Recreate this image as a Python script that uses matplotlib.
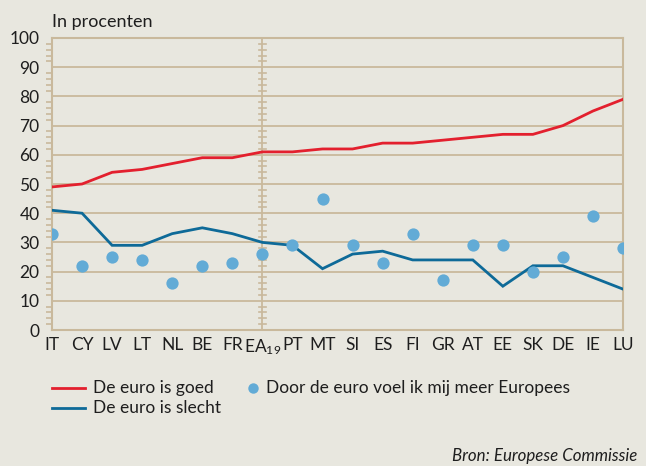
import matplotlib
matplotlib.use("Agg")
import matplotlib.pyplot as plt
from matplotlib.lines import Line2D
from matplotlib.ticker import MultipleLocator

plt.rcParams['font.family'] = ['Lato', 'DejaVu Sans']
plt.rcParams['mathtext.fontset'] = 'custom'
plt.rcParams['mathtext.rm'] = 'Lato'
plt.rcParams['mathtext.it'] = 'Lato:italic'

categories = ["IT", "CY", "LV", "LT", "NL", "BE", "FR", "EA$_{19}$", "PT", "MT",
              "SI", "ES", "FI", "GR", "AT", "EE", "SK", "DE", "IE", "LU"]
goed = [49, 50, 54, 55, 57, 59, 59, 61, 61, 62, 62, 64, 64, 65, 66, 67, 67, 70, 75, 79]
slecht = [41, 40, 29, 29, 33, 35, 33, 30, 29, 21, 26, 27, 24, 24, 24, 15, 22, 22, 18, 14]
europees = [33, 22, 25, 24, 16, 22, 23, 26, 29, 45, 29, 23, 33, 17, 29, 29, 20, 25, 39, 28]
yticks = [0, 10, 20, 30, 40, 50, 60, 70, 80, 90, 100]

BG = "#e8e7df"
GRID = "#c9b99c"
RED = "#e3202e"
BLUE = "#0e6a98"
DOT = "#62abd6"
TXT = "#1e1e1e"

fig = plt.figure(figsize=(6.46, 4.66), dpi=100, facecolor=BG)
ax = fig.add_axes([0.0805, 0.2918, 0.884, 0.6267], facecolor=BG)

x = list(range(len(categories)))
ax.set_xlim(0, len(categories) - 1)
ax.set_ylim(0, 100)

for y in yticks:
    ax.axhline(y, color=GRID, lw=1.3, zorder=1)
ei = categories.index("EA$_{19}$")
ax.axvline(ei, color=GRID, lw=1.3, zorder=1)
# minor ticks on EA19 line
for v in range(2, 100, 2):
    if v % 10:
        ax.plot([ei - 0.12, ei + 0.12], [v, v], color=GRID, lw=1.2, zorder=1, clip_on=False)

ax.plot(x, goed, color=RED, lw=2.0, zorder=3, solid_joinstyle='miter')
ax.plot(x, slecht, color=BLUE, lw=2.0, zorder=3, solid_joinstyle='miter')
ax.scatter(x, europees, s=78, color=DOT, zorder=4, linewidths=0)

for side in ["left", "right", "top", "bottom"]:
    ax.spines[side].set_color(GRID)
    ax.spines[side].set_linewidth(1.5)

ax.set_yticks(yticks)
ax.yaxis.set_minor_locator(MultipleLocator(2))
ax.tick_params(axis='y', which='major', length=0, labelsize=12.5, labelcolor=TXT, pad=9)
ax.tick_params(axis='y', which='minor', length=4, color=GRID, width=1.2, direction='out')
ax.set_xticks(x)
ax.set_xticklabels(categories)
ax.tick_params(axis='x', length=0, labelsize=12.5, labelcolor=TXT, pad=5)

fig.text(52 / 646, 1 - 22 / 466, "In procenten", fontsize=13, color=TXT, va='center', ha='left')

# legend
def fx(px):
    return px / 646

def fy(py):
    return 1 - py / 466

fig.add_artist(Line2D([fx(52), fx(85)], [fy(388), fy(388)], color=RED, lw=2.0))
fig.text(fx(93), fy(388), "De euro is goed", fontsize=12.5, color=TXT, va='center')
fig.add_artist(Line2D([fx(52), fx(85)], [fy(408), fy(408)], color=BLUE, lw=2.0))
fig.text(fx(93), fy(408), "De euro is slecht", fontsize=12.5, color=TXT, va='center')
fig.add_artist(Line2D([fx(253)], [fy(388)], marker='o', markersize=7.5, color=DOT, lw=0, markeredgewidth=0))
fig.text(fx(266), fy(388), "Door de euro voel ik mij meer Europees", fontsize=12.5, color=TXT, va='center')

fig.text(fx(637), fy(456), "Bron: Europese Commissie", fontsize=12.2, color=TXT,
         ha='right', va='center', style='italic')

fig.savefig("out.png", dpi=100, facecolor=BG)
